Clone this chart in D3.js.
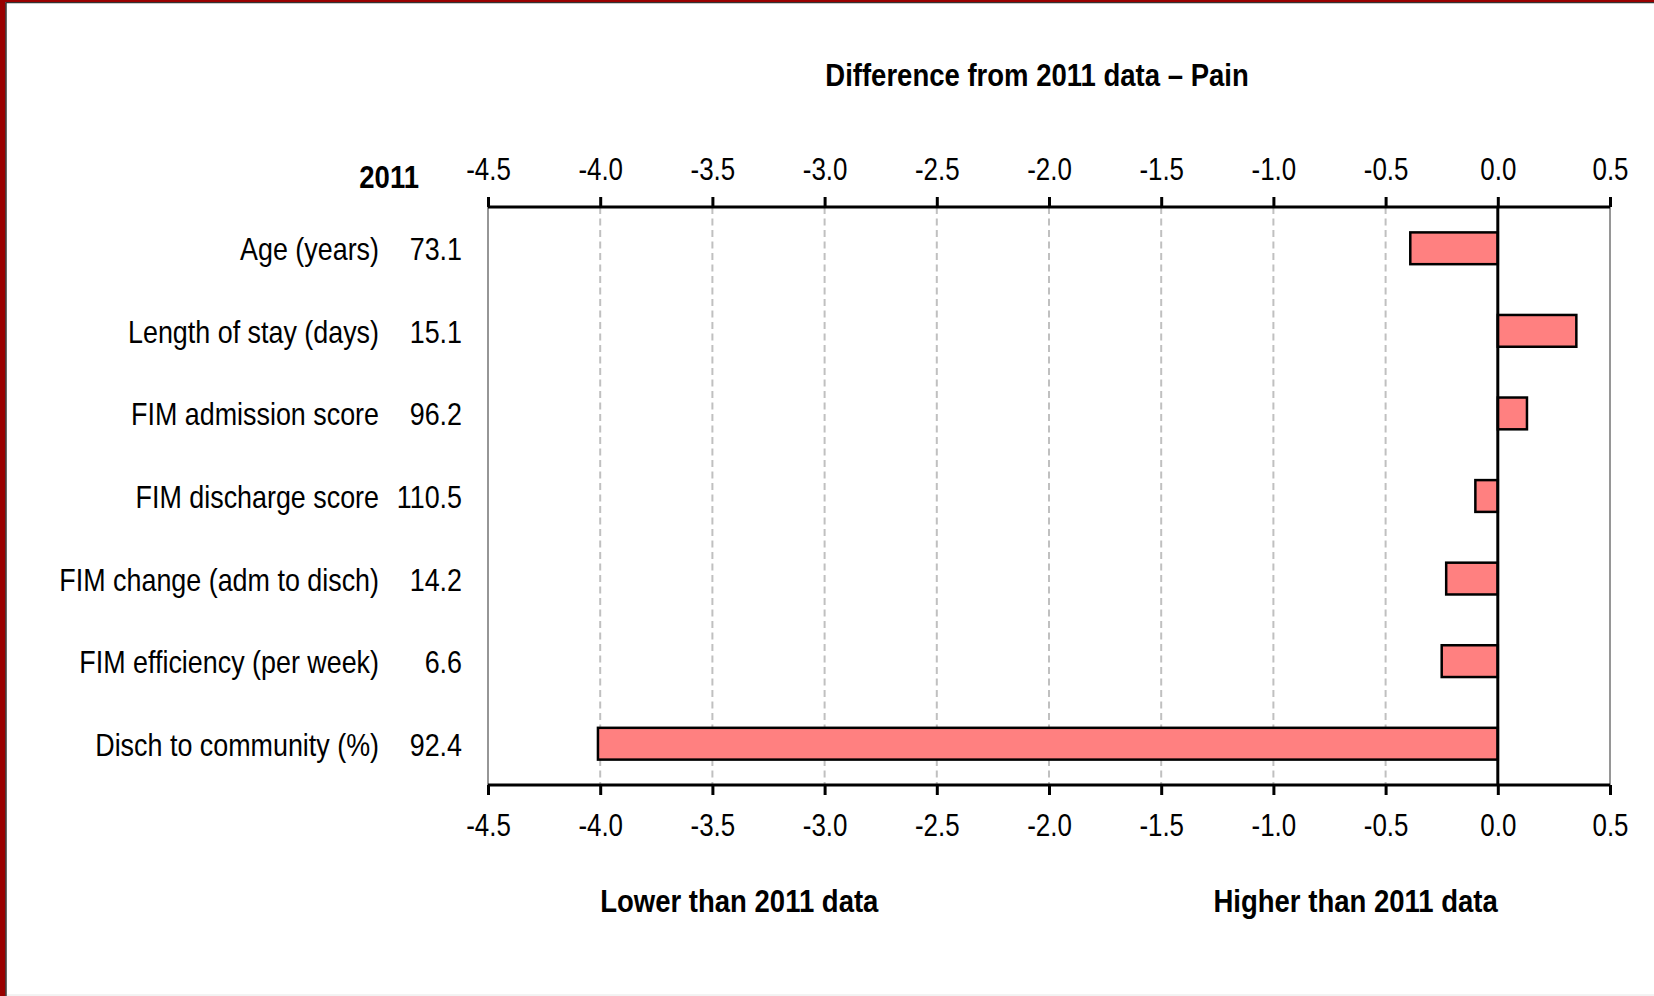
<!DOCTYPE html>
<html>
<head>
<meta charset="utf-8">
<script src="https://cdn.jsdelivr.net/npm/d3@7"></script>
<style>
  html, body { margin: 0; padding: 0; background: #fff; }
  svg { display: block; }
  text { font-family: "Liberation Sans Narrow", "Liberation Sans", Arial, sans-serif; fill: #000; }
</style>
</head>
<body>
<svg id="chart" width="1654" height="996"></svg>
<script>
// ---- data ----
const categories = [
  "Age (years)",
  "Length of stay (days)",
  "FIM admission score",
  "FIM discharge score",
  "FIM change (adm to disch)",
  "FIM efficiency (per week)",
  "Disch to community (%)"
];
const values2011 = ["73.1", "15.1", "96.2", "110.5", "14.2", "6.6", "92.4"];
const differences = [-0.39, 0.35, 0.13, -0.10, -0.23, -0.25, -4.01];
const tickValues = [-4.5, -4.0, -3.5, -3.0, -2.5, -2.0, -1.5, -1.0, -0.5, 0.0, 0.5];
const titleText = "Difference from 2011 data \u2013 Pain";
const yearLabel = "2011";
const lowerLabel = "Lower than 2011 data";
const higherLabel = "Higher than 2011 data";

// ---- layout ----
const W = 1654, H = 996;
const plot = { left: 488, right: 1610, top: 207, bottom: 785 };
const SX = 0.84, SXB = 0.86, SXT = 0.81;

const svg = d3.select("#chart");

// horizontally condensed text helper
function addText(g, x, y, str, opts) {
  opts = opts || {};
  return g.append("text")
    .attr("transform", `translate(${x},${y}) scale(${opts.sx || SX},1)`)
    .attr("text-anchor", opts.anchor || "start")
    .attr("font-size", opts.size || 32)
    .attr("font-weight", opts.bold ? "bold" : "normal")
    .text(str);
}

// frame
svg.append("rect").attr("x", 0).attr("y", 0).attr("width", W).attr("height", H).attr("fill", "#fff");
svg.append("rect").attr("x", 0).attr("y", 0).attr("width", 5.5).attr("height", H).attr("fill", "#990000");
svg.append("rect").attr("x", 0).attr("y", 0).attr("width", W).attr("height", 2).attr("fill", "#990000");
svg.append("line").attr("x1", 6).attr("x2", 6).attr("y1", 2.5).attr("y2", H).attr("stroke", "#000").attr("stroke-width", 1.2);
svg.append("line").attr("x1", 5.5).attr("x2", W).attr("y1", 2.6).attr("y2", 2.6).attr("stroke", "#333").attr("stroke-width", 1.2);
svg.append("line").attr("x1", 7).attr("x2", W).attr("y1", 995).attr("y2", 995).attr("stroke", "#e6e6e6").attr("stroke-width", 1);

const x = d3.scaleLinear().domain([-4.5, 0.5]).range([plot.left, plot.right]);
const y = d3.scaleBand().domain(categories).range([plot.top, plot.bottom])
  .paddingInner(0.615).paddingOuter(0.3075);

// gridlines
const grid = svg.append("g");
grid.selectAll("line.grid")
  .data(tickValues.filter(v => v > -4.5 && v < 0.5 && v !== 0))
  .join("line")
  .attr("class", "grid")
  .attr("x1", d => x(d)).attr("x2", d => x(d))
  .attr("y1", plot.top).attr("y2", plot.bottom)
  .attr("stroke", "#c0c0c0").attr("stroke-width", 2)
  .attr("stroke-dasharray", "7,4.5");
grid.selectAll("line.edge")
  .data([-4.5, 0.5])
  .join("line")
  .attr("class", "edge")
  .attr("x1", d => x(d)).attr("x2", d => x(d))
  .attr("y1", plot.top).attr("y2", plot.bottom)
  .attr("stroke", "#969696").attr("stroke-width", 2);

// bars
svg.append("g").selectAll("rect")
  .data(categories)
  .join("rect")
  .attr("x", (d, i) => x(Math.min(0, differences[i])))
  .attr("y", d => y(d))
  .attr("width", (d, i) => Math.abs(x(differences[i]) - x(0)))
  .attr("height", y.bandwidth())
  .attr("fill", "#ff8080")
  .attr("stroke", "#000")
  .attr("stroke-width", 2.5);

// zero line
svg.append("line")
  .attr("x1", x(0)).attr("x2", x(0))
  .attr("y1", plot.top).attr("y2", plot.bottom)
  .attr("stroke", "#000").attr("stroke-width", 3);

// axes
const fmt = d => d.toFixed(1);
const topAxis = d3.axisTop(x).tickValues(tickValues).tickFormat(fmt).tickSize(10).tickPadding(17);
const bottomAxis = d3.axisBottom(x).tickValues(tickValues).tickFormat(fmt).tickSize(10).tickPadding(18);

function styleAxis(g) {
  g.select(".domain").attr("stroke", "#000").attr("stroke-width", 3)
    .attr("d", `M${plot.left},0H${plot.right}`);
  g.selectAll(".tick line").attr("stroke", "#000").attr("stroke-width", 3);
  g.selectAll(".tick text").attr("font-size", 32)
    .attr("font-family", "\"Liberation Sans Narrow\", \"Liberation Sans\", Arial, sans-serif")
    .attr("fill", "#000")
    .attr("transform", `scale(${SXT},1)`);
}
svg.append("g").attr("transform", `translate(0,${plot.top})`).call(topAxis).call(styleAxis);
svg.append("g").attr("transform", `translate(0,${plot.bottom})`).call(bottomAxis).call(styleAxis);

// category labels and 2011 values
const labels = svg.append("g");
categories.forEach((c, i) => {
  const yy = y(c) + y.bandwidth() / 2 + 12;
  addText(labels, 379, yy, c, { anchor: "end" });
  addText(labels, 462, yy, values2011[i], { anchor: "end" });
});

// year header
addText(svg, 419, 188, yearLabel, { anchor: "end", bold: true, sx: SXB });

// title
addText(svg, 1037, 86, titleText, { anchor: "middle", bold: true, sx: SXB });

// direction labels
addText(svg, x(-4.0), 912, lowerLabel, { anchor: "start", bold: true, sx: SXB });
addText(svg, x(0), 912, higherLabel, { anchor: "end", bold: true, sx: SXB });
</script>
</body>
</html>
